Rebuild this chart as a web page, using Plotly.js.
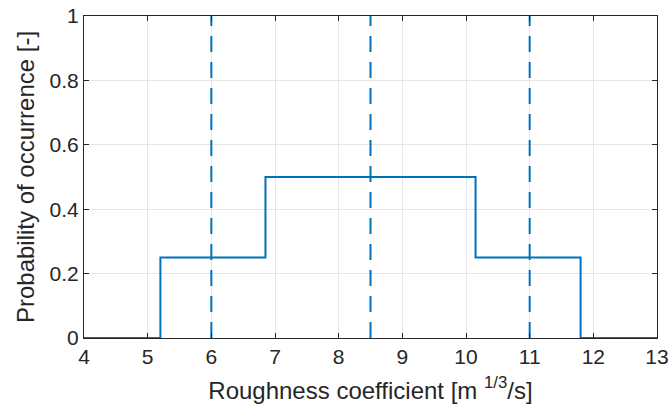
<!DOCTYPE html>
<html>
<head>
<meta charset="utf-8">
<script src="https://cdn.plot.ly/plotly-3.0.1.min.js"></script>
<style>html,body{margin:0;padding:0;background:#fff;}#chart{width:670px;height:412px;}</style>
</head>
<body>
<div id="chart"></div>
<script>
// Step distribution of roughness coefficient
const stepX = [4, 5.2, 6.85, 10.15, 11.8, 13];
const stepY = [0, 0.25, 0.5, 0.25, 0, 0];
// Dashed reference lines
const dashX = [6, 8.5, 11];
const dashYRange = [0, 1];
const xTicks = [4, 5, 6, 7, 8, 9, 10, 11, 12, 13];
const yTicks = [0, 0.2, 0.4, 0.6, 0.8, 1];
const yTickText = ['0', '0.2', '0.4', '0.6', '0.8', '1'];

const blue = '#0072BD';
const traces = [{
  x: stepX, y: stepY, type: 'scatter', mode: 'lines',
  line: {shape: 'hv', color: blue, width: 2}, hoverinfo: 'skip'
}];
dashX.forEach(v => traces.push({
  x: [v, v], y: dashYRange, type: 'scatter', mode: 'lines',
  line: {color: blue, width: 2, dash: '16px,10px'}, hoverinfo: 'skip'
}));

const fam = 'Liberation Sans, Arial, sans-serif';
const axisCommon = {
  showline: true, linecolor: '#262626', linewidth: 1, mirror: 'ticks',
  ticks: 'inside', ticklen: 5, tickcolor: '#262626', tickwidth: 1,
  showgrid: true, gridcolor: '#e6e6e6', gridwidth: 1, zeroline: false,
  tickfont: {family: fam, size: 21, color: '#262626'}
};
const layout = {
  width: 670, height: 412,
  margin: {l: 84, r: 13, t: 16, b: 74},
  paper_bgcolor: '#fff', plot_bgcolor: '#fff',
  showlegend: false,
  font: {family: fam, color: '#262626'},
  xaxis: Object.assign({}, axisCommon, {
    range: [4, 13], tickvals: xTicks, ticktext: xTicks.map(String),
    title: {text: 'Roughness coefficient [m <sup>1/3</sup>/s]', font: {family: fam, size: 24, color: '#262626'}, standoff: 14}
  }),
  yaxis: Object.assign({}, axisCommon, {
    range: [0, 1], tickvals: yTicks, ticktext: yTickText,
    title: {text: 'Probability of occurrence [-]', font: {family: fam, size: 24, color: '#262626'}, standoff: 8}
  })
};
Plotly.newPlot('chart', traces, layout, {staticPlot: true, displayModeBar: false});
</script>
</body>
</html>
